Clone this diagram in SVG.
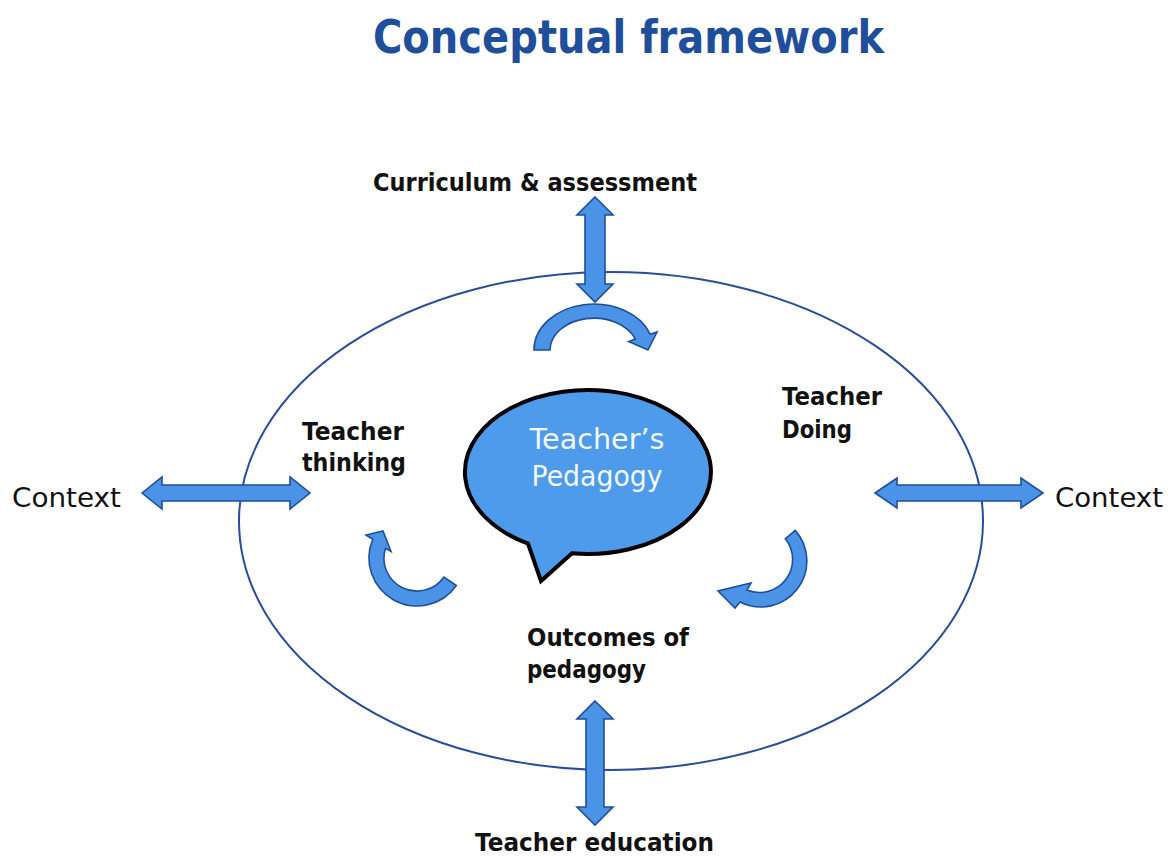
<svg xmlns="http://www.w3.org/2000/svg" width="1168" height="857" viewBox="0 0 1168 857">
<style>
.title{font-family:"DejaVu Sans",Verdana,sans-serif;font-weight:bold;font-size:46px;fill:#1F4E9B}
.lbl{font-family:"DejaVu Sans",Verdana,sans-serif;font-weight:bold;font-size:24px;fill:#111}
.ctx{font-family:"DejaVu Sans",Verdana,sans-serif;font-size:27px;fill:#111}
.bub{font-family:"DejaVu Sans",Verdana,sans-serif;font-size:28px;fill:#F4F7FC}
.arr{fill:#4A93E6;stroke:#1F4E9B;stroke-width:1.6;stroke-linejoin:miter}
</style>
<rect width="1168" height="857" fill="#fff"/>
<text class="title" x="373" y="53" textLength="511" lengthAdjust="spacingAndGlyphs">Conceptual framework</text>
<g id="outer-ellipse">
<ellipse cx="611" cy="521" rx="372" ry="249" fill="none" stroke="#2B4C9B" stroke-width="2"/>
</g>
<g id="pedagogy">
<path d="M528,543.6 A123,82 0 1 1 572,553.3 L541,581 Z" fill="#4D9BEA" stroke="#000" stroke-width="4" stroke-linejoin="miter"/>
<text class="bub" x="597" y="449" text-anchor="middle" textLength="135" lengthAdjust="spacingAndGlyphs">Teacher’s</text>
<text class="bub" x="597" y="486" text-anchor="middle" textLength="131" lengthAdjust="spacingAndGlyphs">Pedagogy</text>
</g>
<g id="curriculum">
<text class="lbl" x="373" y="191" textLength="324" lengthAdjust="spacingAndGlyphs">Curriculum &amp; assessment</text>
</g>
<g id="teacher-thinking">
<text class="lbl" x="302" y="440" textLength="102" lengthAdjust="spacingAndGlyphs">Teacher</text>
<text class="lbl" x="302" y="471" textLength="104" lengthAdjust="spacingAndGlyphs">thinking</text>
</g>
<g id="teacher-doing">
<text class="lbl" x="782" y="405" textLength="100" lengthAdjust="spacingAndGlyphs">Teacher</text>
<text class="lbl" x="782" y="438" textLength="70" lengthAdjust="spacingAndGlyphs">Doing</text>
</g>
<g id="outcomes">
<text class="lbl" x="527" y="646" textLength="162" lengthAdjust="spacingAndGlyphs">Outcomes of</text>
<text class="lbl" x="527" y="678" textLength="119" lengthAdjust="spacingAndGlyphs">pedagogy</text>
</g>
<g id="teacher-education">
<text class="lbl" x="475" y="851" textLength="239" lengthAdjust="spacingAndGlyphs">Teacher education</text>
</g>
<g id="context-left">
<text class="ctx" x="12" y="507" textLength="109" lengthAdjust="spacingAndGlyphs">Context</text>
</g>
<g id="context-right">
<text class="ctx" x="1055" y="507" textLength="108" lengthAdjust="spacingAndGlyphs">Context</text>
</g>
<g id="connectors">
<path class="arr" d="M142,493 L162,477 L162,485 L290,485 L290,477 L310,493 L290,509 L290,501 L162,501 L162,509 Z"/>
<path class="arr" d="M875,493 L897,478 L897,485 L1021,485 L1021,478 L1043,493 L1021,508 L1021,501 L897,501 L897,508 Z"/>
<path class="arr" d="M595,197 L613,215 L605,215 L605,284 L613,284 L595,302 L577,284 L585,284 L585,215 L577,215 Z"/>
<path class="arr" d="M595,701 L613,719 L604,719 L604,807 L613,807 L595,825 L577,807 L586,807 L586,719 L577,719 Z"/>
<path class="arr" d="M534,350 A60,46 0 0 1 650.4,334.3 L657,332 L648,350 L628.7,341.5 L635.3,339.1 A44,32 0 0 0 550,350 Z"/>
<path class="arr" d="M456.3,585.5 A48,48 0 0 1 372.8,539.2 L366,535 L383,531 L391,551.5 L385.4,548.4 A33,33 0 0 0 444,577 Z"/>
<path class="arr" d="M795.2,530.4 A46,46 0 0 1 740,602 L735,608 L718,591 L751,583 L747,590 A33,33 0 0 0 785.3,538.8 Z"/>
</g>
</svg>
